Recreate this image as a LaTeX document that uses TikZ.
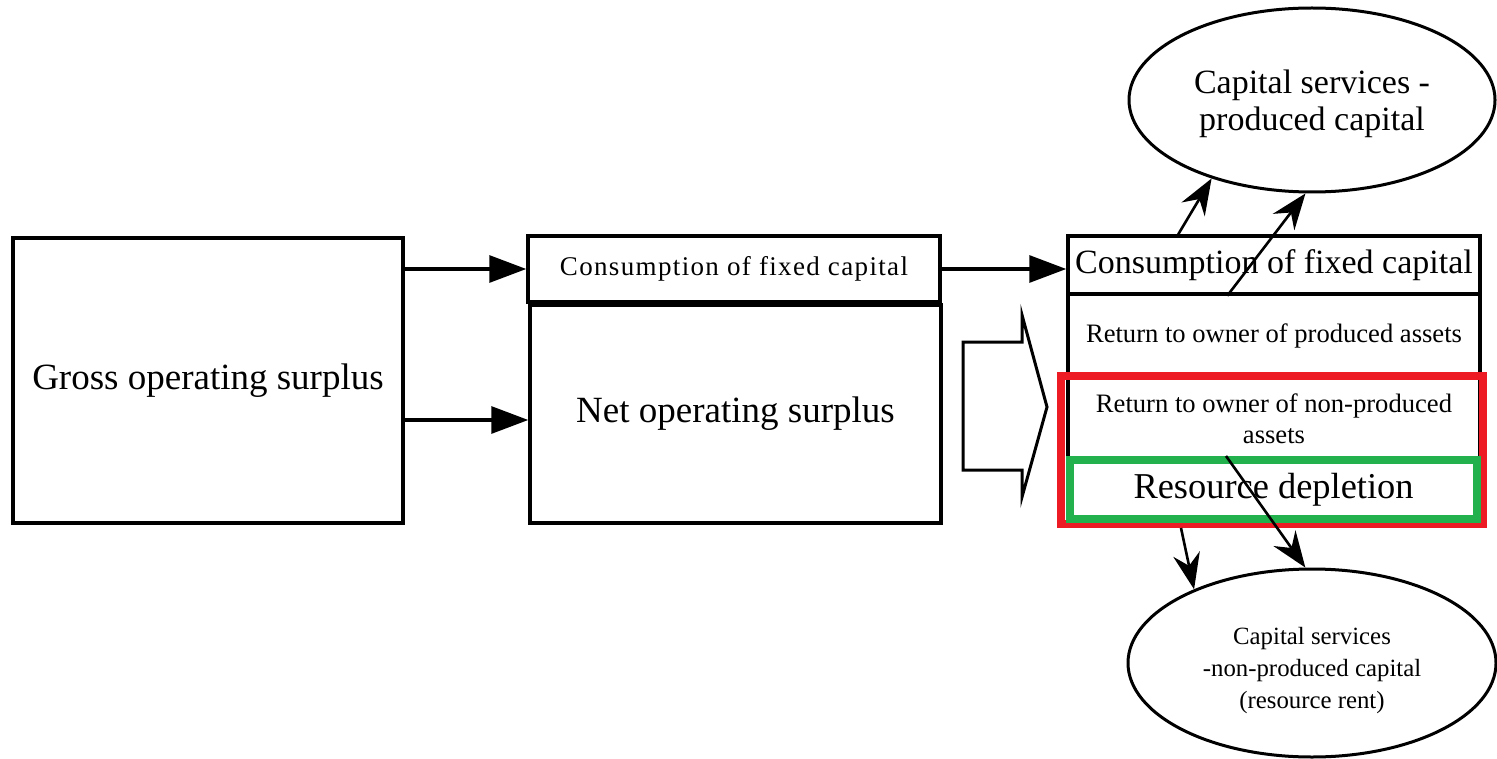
\documentclass[tikz,border=0pt]{standalone}
\usepackage{fontspec}
\setmainfont{Liberation Serif}
\usetikzlibrary{positioning,arrows.meta,shapes.geometric}
\definecolor{hlred}{RGB}{237,28,36}
\definecolor{hlgreen}{RGB}{34,177,76}

\begin{document}
\begin{tikzpicture}[x=0.5pt,y=-0.5pt,
  box/.style={draw,line width=1.75pt,inner sep=0pt,align=center},
  oval/.style={draw,ellipse,line width=1.5pt,inner sep=0pt,align=center},
  tri/.style={-{Triangle[length=18.5pt,width=13.5pt]},line width=1.6pt},
  stl/.style={-{Stealth[length=18pt,width=13.5pt,inset=6pt]},line width=1.3pt}]
  \fill[white](0,0) rectangle (1497,759); \useasboundingbox (0,0) rectangle (1497,759);
  % left and middle boxes
  \node[box,minimum width=195pt,minimum height=142.5pt,font=\fontsize{18.5}{20}\selectfont] (gross) at (208,380.5){Gross operating surplus};
  \node[box,minimum width=206pt,minimum height=33pt,font=\fontsize{13.5}{15}\selectfont\addfontfeatures{LetterSpace=5}] (cfc1) at (734,269){Consumption of fixed capital};
  \node[box,minimum width=205.5pt,minimum height=109pt,font=\fontsize{18.5}{20}\selectfont] (net) at (735.5,414){Net operating surplus};
  % right column
  \node[box,minimum width=206pt,minimum height=29pt,font=\fontsize{17}{19}\selectfont] (cfc2) at (1274,265){Consumption of fixed capital};
  \node[box,minimum width=206pt,minimum height=42pt,font=\fontsize{13.3}{15}\selectfont] (rop) at (1274,336){Return to owner of produced assets};
  \node[box,minimum width=206pt,minimum height=41pt,font=\fontsize{13.3}{15.5}\selectfont] (rnp) at (1274,419){Return to owner of non-produced\\ assets};
  \node[draw=hlred,line width=4pt,minimum width=211pt,minimum height=74pt] (hl) at (1272,450){};
  \node[box,draw=hlgreen,line width=4pt,minimum width=203.5pt,minimum height=29.5pt,font=\fontsize{18.2}{20}\selectfont] (rd) at (1273.5,489.5){Resource depletion};
  % hollow arrow
  \draw[line width=1.5pt](963,342)--(1022,342)--(1022,315)--(1047,407)--(1022,497)--(1022,470)--(963,470)--cycle;
  % ovals
  \node[oval,minimum width=183pt,minimum height=92pt,
    label={[font=\fontsize{17}{18.5}\selectfont,align=center,yshift=-2pt]center:Capital services -\\ produced capital}] (top) at (1312,100){};
  \node[oval,minimum width=184pt,minimum height=94pt,
    label={[font=\fontsize{12.4}{16}\selectfont,align=center,yshift=-4pt]center:Capital services\\ -non-produced capital\\ (resource rent)}] (bot) at (1312,663){};
  % connectors
  \draw[tri](gross.east |- cfc1.west)--(cfc1.west);
  \coordinate (n2) at ([yshift=-3pt]net.west);
  \draw[tri](gross.east |- n2)--(n2);
  \draw[tri](cfc1.east)--(cfc1.east -| cfc2.west);
  \draw[stl]([xshift=56pt]cfc2.north west)--(top.218);
  \draw[stl]([xshift=80.5pt]cfc2.south west)--(top.266);
  \draw[stl]([xshift=62pt]hl.south west)--(bot.148);
  \draw[stl]([xshift=80pt]rd.north west)--(bot.94);
\end{tikzpicture}
\end{document}
